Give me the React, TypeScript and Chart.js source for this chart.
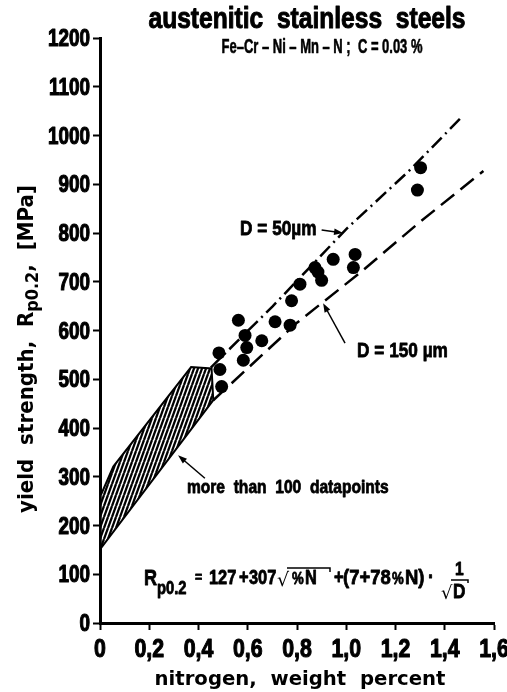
import { useEffect, useRef } from 'react';
import { Chart, registerables } from 'chart.js';

Chart.register(...registerables);

// ---- data ----
const xTickValues = [0, 0.2, 0.4, 0.6, 0.8, 1.0, 1.2, 1.4, 1.6];
const xTickLabels = ['0', '0,2', '0,4', '0,6', '0,8', '1,0', '1,2', '1,4', '1,6'];
const yTickValues = [0, 100, 200, 300, 400, 500, 600, 700, 800, 900, 1000, 1100, 1200];
const yTickLabels = ['0', '100', '200', '300', '400', '500', '600', '700', '800', '900', '1000', '1100', '1200'];

// measured datapoints (nitrogen wt%, yield strength MPa)
const nitrogen = [0.483, 0.487, 0.494, 0.562, 0.589, 0.596, 0.582, 0.657, 0.711, 0.772, 0.778, 0.812, 0.873, 0.885, 0.9, 0.947, 1.036, 1.029, 1.302, 1.289];
const yieldStrength = [554, 520, 485, 621, 590, 565, 539, 579, 618, 611, 661, 695, 729, 720, 703, 746, 756, 729, 934, 888];

// D = 50 µm line (dash-dot)
const d50N = [0.45, 0.7, 1.0, 1.25, 1.475];
const d50Y = [524, 649, 808, 925, 1041];

// D = 150 µm line (dashed)
const d150N = [0.46, 0.8, 1.05, 1.3, 1.557];
const d150Y = [457, 616, 716, 823, 927];

// hatched band "more than 100 datapoints"
const bandN = [0.003, 0.003, 0.054, 0.37, 0.453, 0.46, 0.003];
const bandY = [153, 262, 321, 525, 522, 457, 153];

// annotation arrows
const arrowFromN = [0.9, 0.995, 0.426];
const arrowFromY = [806, 574, 297];
const arrowToN = [0.987, 0.906, 0.317];
const arrowToY = [800, 656, 344];

// annotation texts anchored in data units
const noteTexts = ['D = 50µm', 'D = 150 µm', 'more  than  100  datapoints'];
const noteN = [0.569, 1.044, 0.353];
const noteY = [795, 545, 267];

const SANS = "'Liberation Sans', Arial, sans-serif";
const WIDE = "'DejaVu Sans', sans-serif";

function zip(xs: number[], ys: number[]) {
  return xs.map((x, i) => ({ x, y: ys[i] }));
}

function makeHatch(): CanvasPattern | string {
  const c = document.createElement('canvas');
  const w = 4;
  const h = 11;
  c.width = w;
  c.height = h;
  const g = c.getContext('2d');
  if (!g) return '#888';
  g.fillStyle = '#fff';
  g.fillRect(0, 0, w, h);
  g.strokeStyle = '#000';
  g.lineWidth = 2.3;
  g.beginPath();
  for (let k = -1; k <= 1; k++) {
    g.moveTo(k * w, h);
    g.lineTo(k * w + w, 0);
  }
  g.stroke();
  return g.createPattern(c, 'repeat') || '#888';
}

// condensed bold text (horizontally compressed Liberation Sans Bold, slightly emboldened)
function cText(
  ctx: CanvasRenderingContext2D,
  text: string,
  x: number,
  y: number,
  size: number,
  align: CanvasTextAlign = 'left',
  sx = 0.82,
  bold = 0.8
) {
  ctx.save();
  ctx.font = `bold ${size}px ${SANS}`;
  ctx.translate(x, y);
  ctx.scale(sx, 1);
  ctx.textAlign = align;
  ctx.textBaseline = 'alphabetic';
  ctx.fillText(text, 0, 0);
  if (bold > 0) {
    ctx.lineWidth = bold;
    ctx.lineJoin = 'round';
    ctx.strokeText(text, 0, 0);
  }
  ctx.restore();
}

function fitText(ctx: CanvasRenderingContext2D, text: string, cx: number, y: number, width: number, font: string, bold = 0) {
  ctx.save();
  ctx.font = font;
  const w = ctx.measureText(text).width;
  ctx.translate(cx, y);
  ctx.scale(width / w, 1);
  ctx.textAlign = 'center';
  ctx.textBaseline = 'alphabetic';
  ctx.fillText(text, 0, 0);
  if (bold > 0) {
    ctx.lineWidth = bold;
    ctx.lineJoin = 'round';
    ctx.strokeText(text, 0, 0);
  }
  ctx.restore();
}

type Part = { t: string; font: string; dy: number };
function richFit(ctx: CanvasRenderingContext2D, parts: Part[], width: number) {
  const widths = parts.map((p) => {
    ctx.font = p.font;
    return ctx.measureText(p.t).width;
  });
  const total = widths.reduce((a, b) => a + b, 0);
  ctx.scale(width / total, 1);
  let x = -total / 2;
  ctx.textAlign = 'left';
  ctx.textBaseline = 'alphabetic';
  parts.forEach((p, i) => {
    ctx.font = p.font;
    ctx.fillText(p.t, x, p.dy);
    x += widths[i];
  });
}

const decorPlugin = {
  id: 'decor',
  beforeDraw(chart: any) {
    const ctx = chart.ctx as CanvasRenderingContext2D;
    ctx.save();
    ctx.fillStyle = '#fff';
    ctx.fillRect(0, 0, chart.width, chart.height);
    ctx.restore();
  },
  afterDraw(chart: any) {
    const ctx = chart.ctx as CanvasRenderingContext2D;
    const xs = chart.scales.x;
    const ys = chart.scales.y;
    ctx.save();
    ctx.fillStyle = '#000';
    ctx.strokeStyle = '#000';

    // tick labels (condensed bold)
    xs.ticks.forEach((t: any, i: number) => {
      cText(ctx, xTickLabels[i], xs.getPixelForValue(t.value), 657, 26, 'center', 0.82, 1.1);
    });
    ys.ticks.forEach((t: any, i: number) => {
      cText(ctx, yTickLabels[i], 90, ys.getPixelForValue(t.value) + 8, 23, 'right', 0.82, 1.1);
    });

    // title + subtitle
    fitText(ctx, 'austenitic  stainless  steels', 307, 28, 317, `bold 30px ${SANS}`, 1);
    fitText(ctx, 'Fe–Cr – Ni – Mn – N ;  C = 0.03 %', 322, 53, 201, `bold 20px ${SANS}`, 0.6);

    // x axis title
    fitText(ctx, 'nitrogen,  weight  percent', 300, 685, 291, `bold 20px ${WIDE}`);

    // y axis title (rotated, with subscript)
    ctx.save();
    ctx.translate(33, 349);
    ctx.rotate(-Math.PI / 2);
    richFit(
      ctx,
      [
        { t: 'yield  strength,  R', font: `bold 21px ${WIDE}`, dy: 0 },
        { t: 'p0.2', font: `bold 17px ${WIDE}`, dy: 5 },
        { t: ',  [MPa]', font: `bold 21px ${WIDE}`, dy: 0 },
      ],
      328
    );
    ctx.restore();

    // arrows
    arrowFromN.forEach((_, i) => {
      const x1 = xs.getPixelForValue(arrowFromN[i]);
      const y1 = ys.getPixelForValue(arrowFromY[i]);
      const x2 = xs.getPixelForValue(arrowToN[i]);
      const y2 = ys.getPixelForValue(arrowToY[i]);
      const a = Math.atan2(y2 - y1, x2 - x1);
      const L = 9;
      const H = 3.2;
      ctx.lineWidth = 1.5;
      ctx.beginPath();
      ctx.moveTo(x1, y1);
      ctx.lineTo(x2 - Math.cos(a) * L * 0.8, y2 - Math.sin(a) * L * 0.8);
      ctx.stroke();
      ctx.beginPath();
      ctx.moveTo(x2, y2);
      ctx.lineTo(x2 - Math.cos(a) * L - Math.sin(a) * H, y2 - Math.sin(a) * L + Math.cos(a) * H);
      ctx.lineTo(x2 - Math.cos(a) * L + Math.sin(a) * H, y2 - Math.sin(a) * L - Math.cos(a) * H);
      ctx.closePath();
      ctx.fill();
    });

    // annotation texts
    noteTexts.forEach((t, i) => {
      cText(ctx, t, xs.getPixelForValue(noteN[i]), ys.getPixelForValue(noteY[i]), i === 0 ? 20 : i === 1 ? 21 : 19, 'left', i === 0 ? 0.86 : 0.82);
    });

    // formula
    cText(ctx, 'R', 144, 585, 22);
    cText(ctx, 'p0.2', 157, 594, 18);
    cText(ctx, '=', 195, 582, 15);
    cText(ctx, '127', 209, 584, 20);
    cText(ctx, '+', 239, 584, 20);
    cText(ctx, '307', 249, 584, 20);
    ctx.font = `19px ${WIDE}`;
    ctx.textAlign = 'left';
    ctx.fillText('√', 277, 586);
    cText(ctx, '%', 292, 584, 16);
    cText(ctx, 'N', 305, 584, 20);
    ctx.lineWidth = 1.5;
    ctx.beginPath();
    ctx.moveTo(287, 568);
    ctx.lineTo(330, 568);
    ctx.lineTo(330, 572);
    ctx.stroke();
    cText(ctx, '+', 334, 584, 20);
    cText(ctx, '(7+78', 343, 584, 21, 'left', 0.88);
    cText(ctx, '%', 392, 584, 16);
    cText(ctx, 'N)', 405, 584, 21, 'left', 0.88);
    cText(ctx, '·', 428, 584, 22);
    cText(ctx, '1', 455, 575, 19);
    ctx.font = `18px ${WIDE}`;
    ctx.fillText('√', 441, 599);
    cText(ctx, 'D', 453, 598, 21);
    ctx.lineWidth = 1.5;
    ctx.beginPath();
    ctx.moveTo(451, 580);
    ctx.lineTo(468, 580);
    ctx.lineTo(468, 583);
    ctx.stroke();

    ctx.restore();
  },
};

export default function App() {
  const ref = useRef<HTMLCanvasElement>(null);

  useEffect(() => {
    const canvas = ref.current;
    if (!canvas) return;
    const hatch = makeHatch();
    const chart = new Chart(canvas, {
      type: 'scatter',
      data: {
        datasets: [
          {
            label: 'datapoints',
            data: zip(nitrogen, yieldStrength),
            pointRadius: 6.5,
            pointHoverRadius: 6.5,
            pointBackgroundColor: '#000',
            pointBorderColor: '#000',
            pointBorderWidth: 0,
            showLine: false,
            order: 0,
          },
          {
            label: 'D = 50 µm',
            data: zip(d50N, d50Y),
            showLine: true,
            borderColor: '#000',
            borderWidth: 2.5,
            borderDash: [14, 5, 2, 5],
            pointRadius: 0,
            fill: false,
            tension: 0,
            order: 1,
          },
          {
            label: 'D = 150 µm',
            data: zip(d150N, d150Y),
            showLine: true,
            borderColor: '#000',
            borderWidth: 2.5,
            borderDash: [17, 8],
            pointRadius: 0,
            fill: false,
            tension: 0,
            order: 2,
          },
          {
            label: 'band',
            data: zip(bandN, bandY),
            showLine: true,
            borderColor: '#000',
            borderWidth: 2,
            backgroundColor: hatch as any,
            pointRadius: 0,
            fill: 'shape',
            tension: 0,
            order: 3,
          },
        ],
      },
      options: {
        animation: false,
        responsive: false,
        maintainAspectRatio: false,
        devicePixelRatio: 1,
        layout: { padding: { left: 0, right: 13, top: 38, bottom: 29 } },
        plugins: {
          legend: { display: false },
          tooltip: { enabled: false },
          title: { display: false },
        },
        scales: {
          x: {
            type: 'linear',
            position: 'bottom',
            min: 0,
            max: 1.6,
            afterBuildTicks: (s: any) => {
              s.ticks = xTickValues.map((v) => ({ value: v }));
            },
            afterFit: (s: any) => {
              s.height = 40;
              s.paddingLeft = 0;
              s.paddingRight = 0;
            },
            ticks: { display: false },
            grid: { drawOnChartArea: false, drawTicks: true, tickLength: 7, tickWidth: 2, tickColor: '#000', color: '#000' },
            border: { display: true, color: '#000', width: 3 },
          },
          y: {
            type: 'linear',
            position: 'left',
            min: 0,
            max: 1200,
            afterBuildTicks: (s: any) => {
              s.ticks = yTickValues.map((v) => ({ value: v }));
            },
            afterFit: (s: any) => {
              s.width = 100;
              s.paddingTop = 0;
              s.paddingBottom = 0;
            },
            ticks: { display: false },
            grid: { drawOnChartArea: false, drawTicks: true, tickLength: 7, tickWidth: 2, tickColor: '#000', color: '#000' },
            border: { display: true, color: '#000', width: 3 },
          },
        },
      },
      plugins: [decorPlugin],
    });
    return () => chart.destroy();
  }, []);

  return (
    <div style={{ position: 'absolute', left: 0, top: 0, width: 507, height: 692, background: '#fff' }}>
      <canvas ref={ref} width={507} height={692} style={{ width: 507, height: 692, display: 'block' }} />
    </div>
  );
}
